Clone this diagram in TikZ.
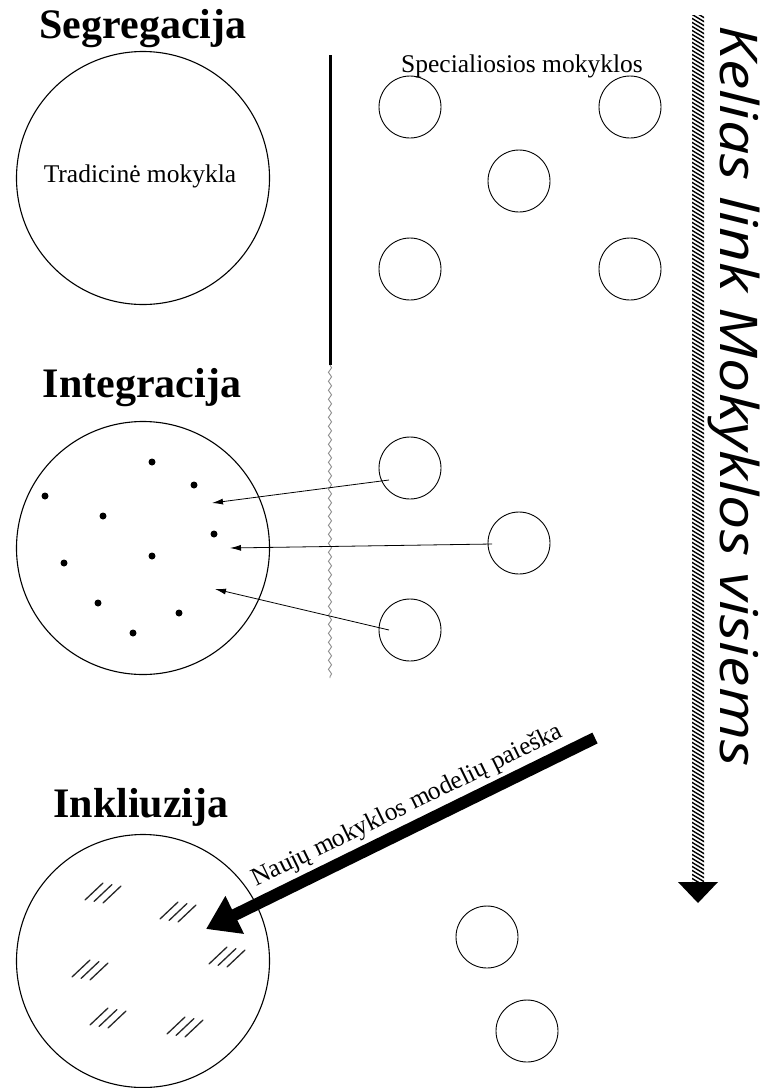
\documentclass[tikz,border=0pt]{standalone}
\usepackage{fontspec}
\setmainfont{Liberation Serif}
\newfontfamily\kfont{Open Sans}
\usetikzlibrary{arrows.meta,decorations.pathmorphing}
\tikzset{
  bigc/.style={circle, draw, line width=1.1pt, minimum size=253pt, inner sep=0pt},
  smallc/.style={circle, draw, line width=0.9pt, minimum size=62pt, inner sep=0pt},
  heading/.style={font=\bfseries\fontsize{42}{42}\selectfont, anchor=base},
  lab/.style={font=\fontsize{25.5}{26}\selectfont, anchor=base},
  dotn/.style={circle, fill, minimum size=7pt, inner sep=0pt},
  thinarrow/.style={line width=0.8pt, -{Latex[length=11pt,width=6pt]}},
  hatchline/.style={line width=1.3pt, color=black!85, line cap=round},
}
\begin{document}
\begin{tikzpicture}[x=1pt,y=-1pt]
\useasboundingbox (0,0) rectangle (767,1088);

% ---- Segregation ----
\node[heading] (hseg) at (143,38) {Segregacija};
\node[bigc] (c1) at (143,178) {};
\node[lab] (trad) at (140,182) {Tradicinė mokykla};
\node[lab] (spec) at (522,72) {Specialiosios mokyklos};
\node[smallc] (s1) at (410,107) {};
\node[smallc] (s2) at (630,107) {};
\node[smallc] (s3) at (519,181) {};
\node[smallc] (s4) at (410,269) {};
\node[smallc] (s5) at (630,269) {};

% separators
\coordinate (wa) at (330,55);
\coordinate (wb) at (330,365);
\coordinate (wc) at (330,678);
\draw[line width=3pt] (wa) -- (wb);
\draw[black!45, line width=0.9pt, decorate, decoration={snake, segment length=9pt, amplitude=1.6pt}] (wb) -- (wc);

% ---- Integration ----
\node[heading] (hint) at (142,397) {Integracija};
\node[bigc] (c2) at (143,548) {};
\foreach \p [count=\i] in {(152,462),(194,485),(45,496),(103,516),(214,534),(152,556),(64,563),(98,603),(179,613),(133,633)}
  \node[dotn] (d\i) at \p {};
\node[smallc] (i1) at (410,468) {};
\node[smallc] (i2) at (519,543) {};
\node[smallc] (i3) at (410,630) {};
\coordinate (a1) at (389,480);
\coordinate (a2) at (492,544);
\coordinate (a3) at (389,630);
\coordinate (t1) at (212,503);
\coordinate (t2) at (230,548);
\coordinate (t3) at (215,589);
\draw[thinarrow] (a1) -- (t1);
\draw[thinarrow] (a2) -- (t2);
\draw[thinarrow] (a3) -- (t3);

% ---- Inclusion ----
\node[heading] (hinc) at (141,817) {Inkliuzija};
\node[bigc] (c3) at (143,961) {};
\foreach \cx/\cy in {103/893,178/912,227/957,90/970,108/1018,185/1027}
  \foreach \k in {-1,0,1}
    \draw[hatchline] (\cx+\k*9-9,\cy+\k*1.5+8.5) -- (\cx+\k*9+9,\cy+\k*1.5-8.5);
\node[smallc] (n1) at (487,937) {};
\node[smallc] (n2) at (527,1031) {};

% big arrow
\coordinate (ba) at (595,738);
\coordinate (bt) at (206,929);
\draw[line width=12pt, -{Triangle[length=32pt,width=40pt]}] (ba) -- (bt);
\node[lab, rotate=26] (bigtxt) at (410,812) {Naujų mokyklos modelių paieška};

% ---- vertical hatched arrow ----
\coordinate (va) at (698,15);
\coordinate (vb) at (698,882);
\coordinate (vt) at (698,903);
\begin{scope}
  \clip (692,15) rectangle (704,883);
  \foreach \y in {4,8,...,890}
    \draw[line width=1.4pt] (688,\y) -- (708,\y+12);
\end{scope}
\fill (678,882) -- (718,882) -- (vt) -- cycle;
\node[rotate=-90, anchor=base, font=\kfont\itshape\fontsize{52}{52}\selectfont] (ktxt) at (720,396) {\scalebox{1.17}[1]{Kelias link Mokyklos visiems}};
\end{tikzpicture}
\end{document}
